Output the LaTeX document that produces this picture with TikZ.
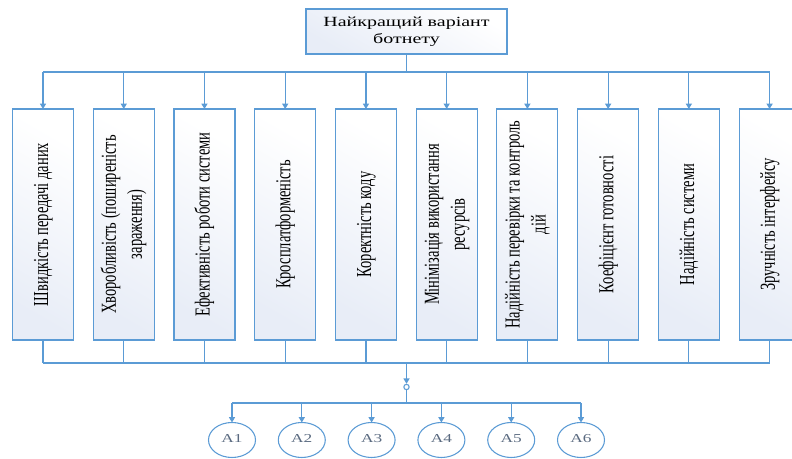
\documentclass[tikz,border=0pt]{standalone}
\usepackage{fontspec}
\setmainfont{Liberation Serif}
\usetikzlibrary{positioning,arrows.meta,shapes.geometric}
\definecolor{lineblue}{HTML}{5B9BD5}
\definecolor{boxlow}{HTML}{E8EDF7}
\definecolor{labgray}{HTML}{5A6A80}
\newcommand{\vtext}[1]{\rotatebox{90}{\scalebox{0.68}[1]{\begin{tabular}{@{}c@{}}#1\end{tabular}}}}
\newcommand{\htext}[1]{\scalebox{1}[0.7]{\begin{tabular}{@{}c@{}}#1\end{tabular}}}
\begin{document}
\begin{tikzpicture}[
    x=0.75pt, y=-0.75pt,
    font=\fontsize{16}{19.5}\selectfont, node distance=14.8pt,
    box/.style={draw=lineblue, line width=0.8pt,
                top color=white, bottom color=boxlow, shading angle=-30,
                minimum width=45.75pt, minimum height=173.25pt, inner sep=0pt, outer sep=0pt},
    topbox/.style={box, minimum width=150.75pt, minimum height=33.75pt,
                   font=\fontsize{15}{18}\selectfont},
    oval/.style={ellipse, draw=lineblue, line width=0.8pt, fill=white,
                 minimum width=35.25pt, minimum height=26.25pt, inner sep=0pt, outer sep=0pt,
                 text=labgray, font=\fontsize{13}{14}\selectfont},
    ln/.style={draw=lineblue, line width=0.9pt},
    arr/.style={ln, -{Triangle[length=4pt,width=4.5pt]}}
  ]
    \useasboundingbox (0,0) rectangle (792,459);
    \node[topbox] (top) at (406.5,31.5) {\htext{Найкращий варіант\\ботнету}};
    \coordinate (topbus) at (406.5,72);
    \coordinate (botbus) at (406.5,363);
    \coordinate (split)  at (406.5,403);

    \node[box] (b1) at (43,224.5) {\vtext{Швидкість передачі даних}};
    \node[box, right=of b1] (b2) {\vtext{Хворобливість (поширеність\\зараження)}};
    \node[box, right=of b2] (b3) {\vtext{Ефективність роботи системи}};
    \node[box, right=of b3] (b4) {\vtext{Кросплатформеність}};
    \node[box, right=of b4] (b5) {\vtext{Коректність коду}};
    \node[box, right=of b5] (b6) {\vtext{Мінімізація використання\\ресурсів}};
    \node[box, right=of b6] (b7) {\vtext{Надійність перевірки та контроль\\дій}};
    \node[box, right=of b7] (b8) {\vtext{Коефіцієнт готовності}};
    \node[box, right=of b8] (b9) {\vtext{Надійність системи}};
    \node[box, right=of b9] (b10) {\vtext{Зручність інтерфейсу}};

    \node[circle, draw=lineblue, line width=0.8pt, fill=white, minimum size=4pt, inner sep=0pt]
      (join) at (406.5,387) {};

    \node[oval] (a1) at (232,440) {\htext{A1}};
    \node[oval, right=17.1pt of a1] (a2) {\htext{A2}};
    \node[oval, right=17.1pt of a2] (a3) {\htext{A3}};
    \node[oval, right=17.1pt of a3] (a4) {\htext{A4}};
    \node[oval, right=17.1pt of a4] (a5) {\htext{A5}};
    \node[oval, right=17.1pt of a5] (a6) {\htext{A6}};

    % top fan-out
    \draw[ln] (top) -- (topbus);
    \draw[ln] (b1.north |- topbus) -- (b10.north |- topbus);
    \draw[arr] (b1.north |- topbus) -- (b1.north);
    \draw[arr] (b2.north |- topbus) -- (b2.north);
    \draw[arr] (b3.north |- topbus) -- (b3.north);
    \draw[arr] (b4.north |- topbus) -- (b4.north);
    \draw[arr] (b5.north |- topbus) -- (b5.north);
    \draw[arr] (b6.north |- topbus) -- (b6.north);
    \draw[arr] (b7.north |- topbus) -- (b7.north);
    \draw[arr] (b8.north |- topbus) -- (b8.north);
    \draw[arr] (b9.north |- topbus) -- (b9.north);
    \draw[arr] (b10.north |- topbus) -- (b10.north);

    % bottom collection
    \draw[ln] (b1.south) -- (b1.south |- botbus);
    \draw[ln] (b2.south) -- (b2.south |- botbus);
    \draw[ln] (b3.south) -- (b3.south |- botbus);
    \draw[ln] (b4.south) -- (b4.south |- botbus);
    \draw[ln] (b5.south) -- (b5.south |- botbus);
    \draw[ln] (b6.south) -- (b6.south |- botbus);
    \draw[ln] (b7.south) -- (b7.south |- botbus);
    \draw[ln] (b8.south) -- (b8.south |- botbus);
    \draw[ln] (b9.south) -- (b9.south |- botbus);
    \draw[ln] (b10.south) -- (b10.south |- botbus);
    \draw[ln] (b1.south |- botbus) -- (b10.south |- botbus);
    \draw[arr] (botbus) -- (join);
    \draw[ln] (join) -- (split);

    % alternatives
    \draw[ln] (a1.north |- split) -- (a6.north |- split);
    \draw[arr] (a1.north |- split) -- (a1.north);
    \draw[arr] (a2.north |- split) -- (a2.north);
    \draw[arr] (a3.north |- split) -- (a3.north);
    \draw[arr] (a4.north |- split) -- (a4.north);
    \draw[arr] (a5.north |- split) -- (a5.north);
    \draw[arr] (a6.north |- split) -- (a6.north);
  \end{tikzpicture}
\end{document}
